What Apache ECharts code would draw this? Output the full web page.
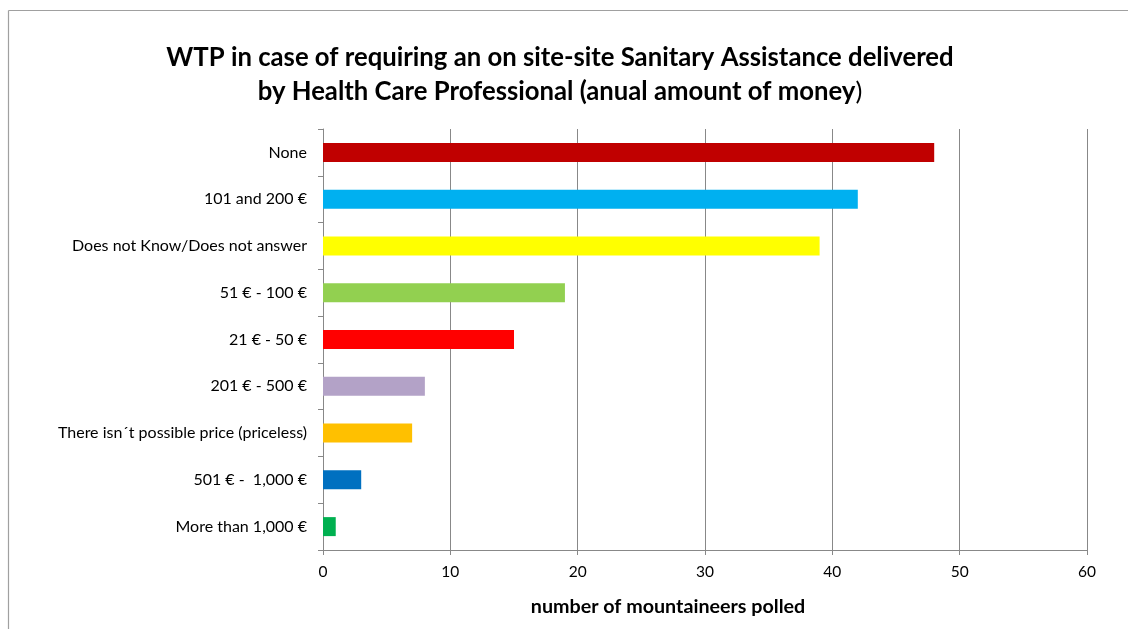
<!DOCTYPE html>
<html>
<head>
<meta charset="utf-8">
<script src="https://cdn.jsdelivr.net/npm/echarts@6/dist/echarts.min.js"></script>
<style>
  html, body { margin: 0; padding: 0; background: #fff; }
  #chart { width: 1128px; height: 629px; }
</style>
</head>
<body>
<div id="chart"></div>
<script>
// categories top to bottom
const categories = [
  "None",
  "101 and 200 €",
  "Does not Know/Does not answer",
  "51 € - 100 €",
  "21 € - 50 €",
  "201 € - 500 €",
  "There isn´t possible price (priceless)",
  "501 € -  1,000 €",
  "More than 1,000 €"
];
const mountaineers = [48, 42, 39, 19, 15, 8, 7, 3, 1];
const xTicks = { min: 0, max: 60, interval: 10 };

const barColors = ["#C00000", "#00B0F0", "#FFFF00", "#92D050", "#FF0000",
                   "#B3A2C7", "#FFC000", "#0070C0", "#00B050"];
const font = "Lato, 'Open Sans', sans-serif";
const grey = "#888888";

const chart = echarts.init(document.getElementById("chart"));
chart.setOption({
  animation: false,
  backgroundColor: "#fff",
  title: [
    {
      text: "{b|WTP in case of requiring an on site-site Sanitary Assistance delivered}\n" +
            "{b|by Health Care Professional (anual amount of money}{n|)}",
      left: 555,
      top: 36,
      textAlign: "center",
      textStyle: {
        rich: {
          b: { fontFamily: font, fontSize: 25.7, fontWeight: "bold", color: "#000", lineHeight: 34 },
          n: { fontFamily: font, fontSize: 25.7, fontWeight: "normal", color: "#000", lineHeight: 34 }
        }
      }
    },
    {
      text: "number of mountaineers polled",
      left: 663,
      top: 592,
      textAlign: "center",
      textStyle: { fontFamily: font, fontSize: 19.7, fontWeight: "bold", color: "#000" }
    }
  ],
  grid: { left: 323, right: 41, top: 129, bottom: 79, containLabel: false },
  xAxis: {
    type: "value",
    min: xTicks.min,
    max: xTicks.max,
    interval: xTicks.interval,
    axisLine: { show: true, lineStyle: { color: grey, width: 1 } },
    axisTick: { show: true, length: 5, lineStyle: { color: grey } },
    axisLabel: { margin: 14, fontFamily: font, fontSize: 15.5, color: "#000" },
    splitLine: { show: true, lineStyle: { color: grey, width: 1 } }
  },
  yAxis: {
    type: "category",
    data: categories,
    inverse: true,
    axisLine: { show: true, lineStyle: { color: grey, width: 1 } },
    axisTick: { show: true, length: 5, lineStyle: { color: grey } },
    axisLabel: { margin: 16, fontFamily: font, fontSize: 16, color: "#000" },
    splitLine: { show: false }
  },
  series: [{
    type: "bar",
    data: mountaineers.map((v, i) => ({ value: v, itemStyle: { color: barColors[i] } })),
    barWidth: 19
  }],
  graphic: [
    { type: "line", shape: { x1: 8.5, y1: 10.5, x2: 1128, y2: 10.5 }, style: { stroke: "#a0a0a0", lineWidth: 1.2 }, silent: true },
    { type: "line", shape: { x1: 8.5, y1: 10.5, x2: 8.5, y2: 629 }, style: { stroke: "#a0a0a0", lineWidth: 1.2 }, silent: true }
  ]
});
</script>
</body>
</html>
